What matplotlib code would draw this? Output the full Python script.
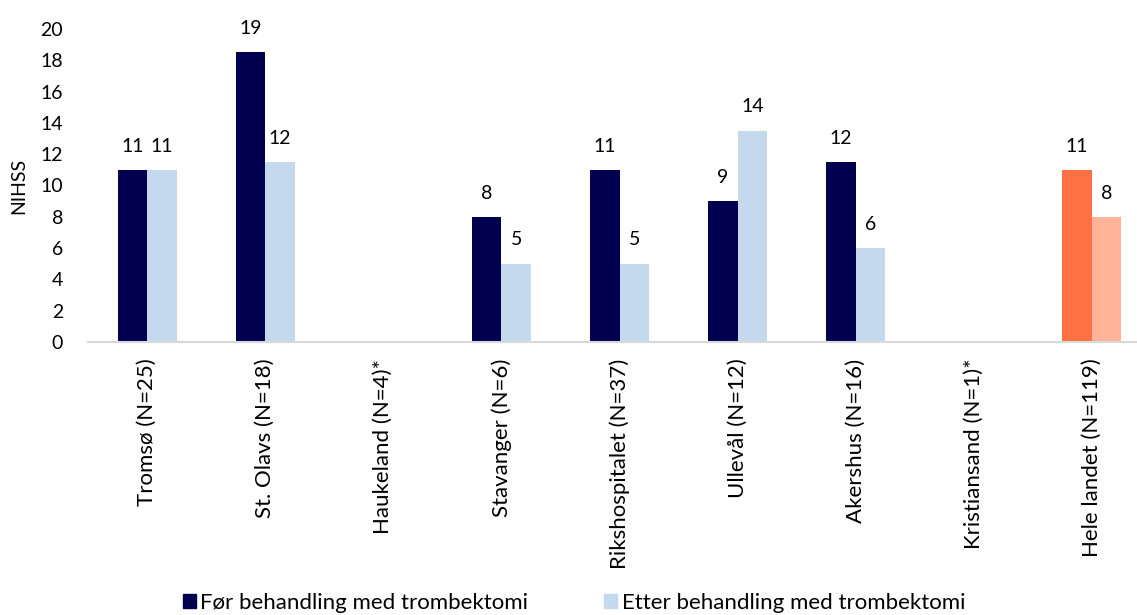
import numpy as np
import matplotlib
matplotlib.use("Agg")
from matplotlib import pyplot as plt
from matplotlib.patches import Patch

plt.rcParams['font.family'] = ['Lato', 'DejaVu Sans']

hospitals = ["Tromsø (N=25)", "St. Olavs (N=18)", "Haukeland (N=4)*", "Stavanger (N=6)",
             "Rikshospitalet (N=37)", "Ullevål (N=12)", "Akershus (N=16)",
             "Kristiansand (N=1)*", "Hele landet (N=119)"]
before = [11, 18.5, np.nan, 8, 11, 9, 11.5, np.nan, 11]
after = [11, 11.5, np.nan, 5, 5, 13.5, 6, np.nan, 8]
series_names = ["Før behandling med trombektomi", "Etter behandling med trombektomi"]

dark = "#02014F"
light = "#C5D9EE"
dark_total = "#FF7043"
light_total = "#FFB399"

fig = plt.figure(figsize=(11.37, 6.15), dpi=100)
ax = fig.add_axes([88 / 1137, 273 / 615, (1151 - 88) / 1137, 313 / 615])

x = np.arange(len(hospitals))
w = 0.25
c_before = [dark] * (len(hospitals) - 1) + [dark_total]
c_after = [light] * (len(hospitals) - 1) + [light_total]

b1 = ax.bar(x - w / 2, before, w, color=c_before)
b2 = ax.bar(x + w / 2, after, w, color=c_after)

for bars, vals in ((b1, before), (b2, after)):
    for rect, v in zip(bars, vals):
        if np.isnan(v):
            continue
        ax.annotate(f"{int(np.floor(v + 0.5))}", (rect.get_x() + rect.get_width() / 2, v),
                    xytext=(0, 11), textcoords="offset points",
                    ha="center", va="bottom", fontsize=14, color="#000000")

ax.set_xlim(-0.5, 8.5)
ax.set_ylim(0, 20)
ax.set_yticks(range(0, 21, 2))
ax.set_xticks(x)
ax.set_xticklabels(hospitals, rotation=90, fontsize=16)
ax.tick_params(axis="y", labelsize=14, length=0, pad=18)
ax.tick_params(axis="x", length=0, pad=12)
for s in ("top", "right", "left"):
    ax.spines[s].set_visible(False)
ax.spines["bottom"].set_color("#D9D9D9")
ax.spines["bottom"].set_linewidth(1.5)
ax.set_ylabel("NIHSS", fontsize=14)
ax.yaxis.set_label_coords(-0.057, 0.5)

handles = [Patch(color=dark), Patch(color=light)]
fig.legend(handles, series_names, loc="center", bbox_to_anchor=(574 / 1137, 1 - 603 / 615),
           ncol=2, frameon=False, fontsize=16, handlelength=0.6, handleheight=0.6,
           handletextpad=0.2, columnspacing=3.4)

fig.savefig("out.png", dpi=100)
